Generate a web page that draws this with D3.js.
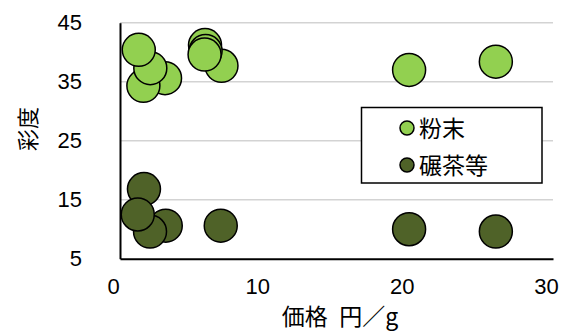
<!DOCTYPE html>
<html><head><meta charset="utf-8">
<script src="https://cdn.jsdelivr.net/npm/d3@7"></script>
<style>body{margin:0;background:#fff}svg{display:block}</style>
</head><body>
<svg id="c" width="566" height="333"></svg>
<script>
const seriesNames = ["粉末", "碾茶等"];
const seriesColors = ["#92D050", "#4F6228"];
// 粉末 (drawn in this order, later on top)
const powderX = [3.12, 1.62, 2.10, 1.30, 7.03, 5.89, 5.93, 5.86, 20.03, 26.04];
const powderY = [35.6, 34.3, 37.3, 40.4, 37.7, 41.2, 40.2, 39.6, 37.0, 38.4];
// 碾茶等
const tenchaX = [1.66, 3.17, 2.08, 1.23, 6.98, 20.03, 26.04];
const tenchaY = [16.8, 10.6, 9.6, 12.5, 10.6, 10.0, 9.6];
const xTicks = [0, 10, 20, 30];
const yTicks = [5, 15, 25, 35, 45];
const xTitle = "価格\u2002円／g";
const yTitle = "彩度";

const svg = d3.select("#c");
const L = 120, R = 553, T = 22.7, B = 258.7;
const x = d3.scaleLinear().domain([0, 30]).range([L, R]);
const y = d3.scaleLinear().domain([5, 45]).range([B, T]);
const numFont = "'Liberation Sans', Arial, sans-serif";
const cjkFont = "'Noto Sans CJK JP', sans-serif";

// gridlines
svg.append("g").selectAll("line").data(yTicks.filter(d => d > 5)).join("line")
  .attr("x1", L).attr("x2", R).attr("y1", d => y(d)).attr("y2", d => y(d))
  .attr("stroke", "#d3d3d3").attr("stroke-width", 1.5);

// axes
const yAxis = svg.append("g").attr("transform", `translate(${L},0)`)
  .call(d3.axisLeft(y).tickValues(yTicks).tickSize(0).tickPadding(38));
yAxis.select(".domain").attr("stroke", "#000").attr("stroke-width", 2);
yAxis.selectAll("text").attr("font-family", numFont).attr("font-size", 22).attr("fill", "#000");

const xAxis = svg.append("g").attr("transform", `translate(0,${B})`)
  .call(d3.axisBottom(x).tickValues(xTicks).tickSize(0).tickPadding(20));
xAxis.select(".domain").attr("stroke", "#000").attr("stroke-width", 2);
xAxis.selectAll("text").attr("font-family", numFont).attr("font-size", 22).attr("fill", "#000")
  .attr("dx", -7);

// points
const seriesData = [
  powderX.map((v, i) => ({x: v, y: powderY[i]})),
  tenchaX.map((v, i) => ({x: v, y: tenchaY[i]}))
];
seriesData.forEach((data, s) => {
  svg.append("g").selectAll("circle").data(data).join("circle")
    .attr("cx", d => x(d.x)).attr("cy", d => y(d.y)).attr("r", 16.5)
    .attr("fill", seriesColors[s]).attr("stroke", "#000").attr("stroke-width", 1.5);
});

// titles
svg.append("text").attr("x", 340).attr("y", 325).attr("text-anchor", "middle")
  .attr("font-family", cjkFont).attr("font-size", 23).attr("fill", "#000").text(xTitle);
svg.append("text").attr("transform", "translate(36,129) rotate(-90)").attr("text-anchor", "middle")
  .attr("font-family", cjkFont).attr("font-size", 22).attr("fill", "#000").text(yTitle);

// legend
const lg = svg.append("g");
lg.append("rect").attr("x", 361.5).attr("y", 107.5).attr("width", 180.5).attr("height", 75.5)
  .attr("fill", "#fff").attr("stroke", "#000").attr("stroke-width", 1.5);
seriesNames.forEach((n, i) => {
  const cy = 128 + i * 37;
  lg.append("circle").attr("cx", 407).attr("cy", cy).attr("r", 7)
    .attr("fill", seriesColors[i]).attr("stroke", "#000").attr("stroke-width", 1.5);
  lg.append("text").attr("x", 419).attr("y", cy + 8.5)
    .attr("font-family", cjkFont).attr("font-size", 23).attr("fill", "#000").text(n);
});
</script>
</body></html>
